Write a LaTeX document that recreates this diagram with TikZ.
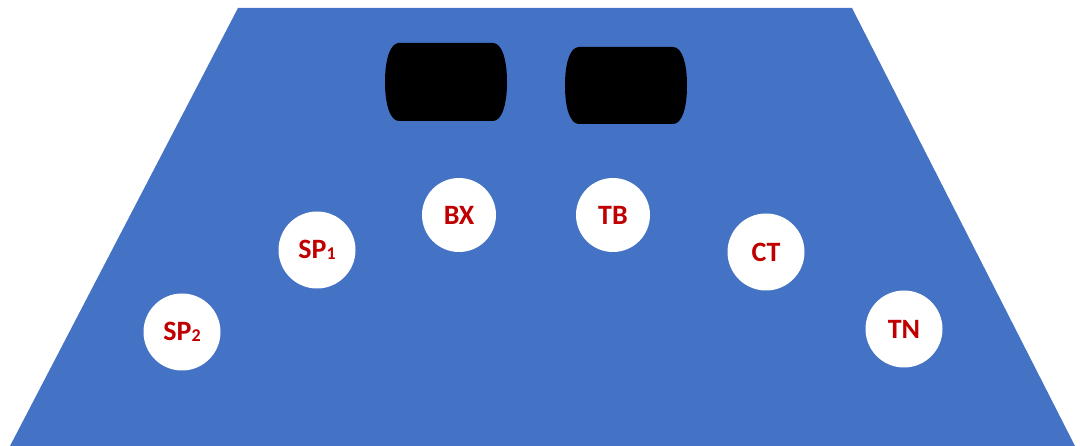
\documentclass[tikz,border=0pt]{standalone}
\usepackage{fontspec}
\newfontfamily\lblfont{Carlito}
\definecolor{trapblue}{HTML}{4472C4}
\definecolor{lblred}{HTML}{C00000}
\tikzset{
  spot/.style={circle,fill=white,draw=none,minimum size=77pt,inner sep=0pt,
    text=lblred,font=\lblfont\bfseries\fontsize{28}{30}\selectfont},
  barrel/.style={fill=black}
}
\newcommand{\lowsub}[1]{\raisebox{-1pt}{\fontsize{18}{18}\selectfont #1}}
\begin{document}
\begin{tikzpicture}[x=1pt,y=-1pt]
\useasboundingbox (0,0) rectangle (1080,446);
\fill[trapblue] (238,8) -- (852,8) -- (1075,446) -- (10,446) -- cycle;
% barrels
\fill[barrel] (397,43) -- (493,43) .. controls (502,43) and (507,60) .. (507,82)
  .. controls (507,104) and (502,121) .. (493,121)
  -- (399,121) .. controls (390,121) and (385,104) .. (385,82)
  .. controls (385,60) and (390,43) .. (399,43) -- cycle;
\fill[barrel] (579,47) -- (673,47) .. controls (682,47) and (687,63) .. (687,85.5)
  .. controls (687,108) and (682,124) .. (673,124)
  -- (579,124) .. controls (570,124) and (565,108) .. (565,85.5)
  .. controls (565,63) and (570,47) .. (579,47) -- cycle;
% spots
\node[spot] (sp2) at (182,332) {SP\lowsub{2}};
\node[spot] (sp1) at (317,250) {SP\lowsub{1}};
\node[spot,minimum size=74pt] (bx) at (459,215) {BX};
\node[spot,minimum size=74pt] (tb) at (613,215) {TB};
\node[spot] (ct) at (766,252) {CT};
\node[spot] (tn) at (904,329) {TN};
\end{tikzpicture}
\end{document}
